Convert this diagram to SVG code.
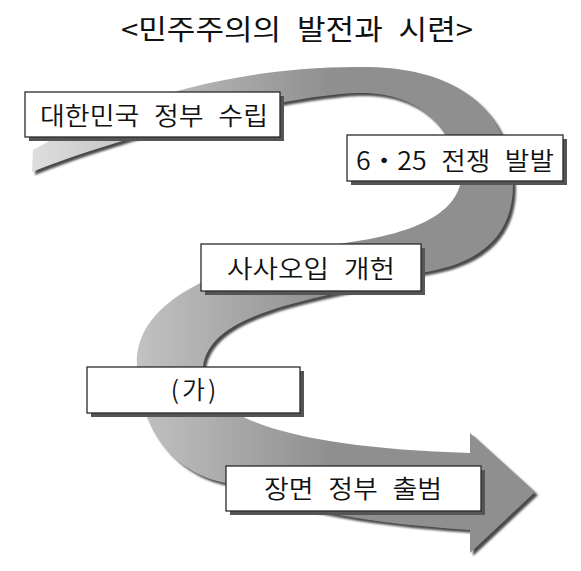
<svg xmlns="http://www.w3.org/2000/svg" width="581" height="571" viewBox="0 0 581 571">
  <style>
    .box { fill: #ffffff; stroke: #2a2a2a; stroke-width: 1.3; }
    .shadow { fill: #555555; }
    .label { font-family: "Noto Sans CJK KR", "Noto Sans", sans-serif; font-size: 25px; font-weight: 350; fill: #111111; text-anchor: middle; word-spacing: 8px; }
    .title { font-family: "Noto Sans CJK KR", "Noto Sans", sans-serif; font-size: 28px; font-weight: 400; fill: #111111; text-anchor: middle; word-spacing: 8px; }
  </style>
  <defs>
    <linearGradient id="ribbonGrad" gradientUnits="userSpaceOnUse" x1="30" y1="0" x2="330" y2="0">
      <stop offset="0" stop-color="#dedede"/>
      <stop offset="1" stop-color="#8f8f8f"/>
    </linearGradient>
    <filter id="blur1" x="-5%" y="-5%" width="110%" height="110%">
      <feGaussianBlur stdDeviation="1"/>
    </filter>
    <path id="ribbon" d="M 33,150 C 110,105 230,66 360,67 C 445,66 510,100 513,185 C 513,240 475,265 420,273 C 340,298 210,305 203,367 C 200,420 300,448 470,453 L 470,433 L 535,492 L 470,553 L 470,530 C 380,524 290,512 227,483 C 190,478 140,445 137,367 C 133,300 220,262 345,243 C 395,236 450,222 460,185 C 458,130 420,92 360,93 C 310,93 150,125 32,172 Z"/>
  </defs>

  <rect width="581" height="571" fill="#ffffff"/>

  <g id="title">
    <text class="title" x="297" y="40" textLength="352" lengthAdjust="spacingAndGlyphs">&lt;민주주의의 발전과 시련&gt;</text>
  </g>

  <g id="connectors">
    <use href="#ribbon" transform="translate(3,3)" fill="#4a4a4a" filter="url(#blur1)"/>
    <use href="#ribbon" fill="url(#ribbonGrad)"/>
  </g>

  <g id="node-1">
    <rect class="shadow" x="29" y="96" width="255" height="45"/>
    <rect class="box" x="25" y="92" width="255" height="45"/>
    <text class="label" x="154" y="125" textLength="228" lengthAdjust="spacingAndGlyphs">대한민국 정부 수립</text>
  </g>

  <g id="node-2">
    <rect class="shadow" x="351" y="139" width="216" height="46"/>
    <rect class="box" x="347" y="135" width="216" height="46"/>
    <text class="label" x="455" y="170" textLength="198" lengthAdjust="spacingAndGlyphs">6・25 전쟁 발발</text>
  </g>

  <g id="node-3">
    <rect class="shadow" x="205" y="248" width="220" height="47"/>
    <rect class="box" x="201" y="244" width="220" height="47"/>
    <text class="label" x="311" y="278" textLength="168" lengthAdjust="spacingAndGlyphs">사사오입 개헌</text>
  </g>

  <g id="node-4">
    <rect class="shadow" x="91" y="371" width="213" height="46"/>
    <rect class="box" x="87" y="367" width="213" height="46"/>
    <text class="label" x="195" y="399" letter-spacing="3">(가)</text>
  </g>

  <g id="node-5">
    <rect class="shadow" x="230" y="470" width="255" height="45"/>
    <rect class="box" x="226" y="466" width="255" height="45"/>
    <text class="label" x="353" y="498" textLength="178" lengthAdjust="spacingAndGlyphs">장면 정부 출범</text>
  </g>
</svg>
